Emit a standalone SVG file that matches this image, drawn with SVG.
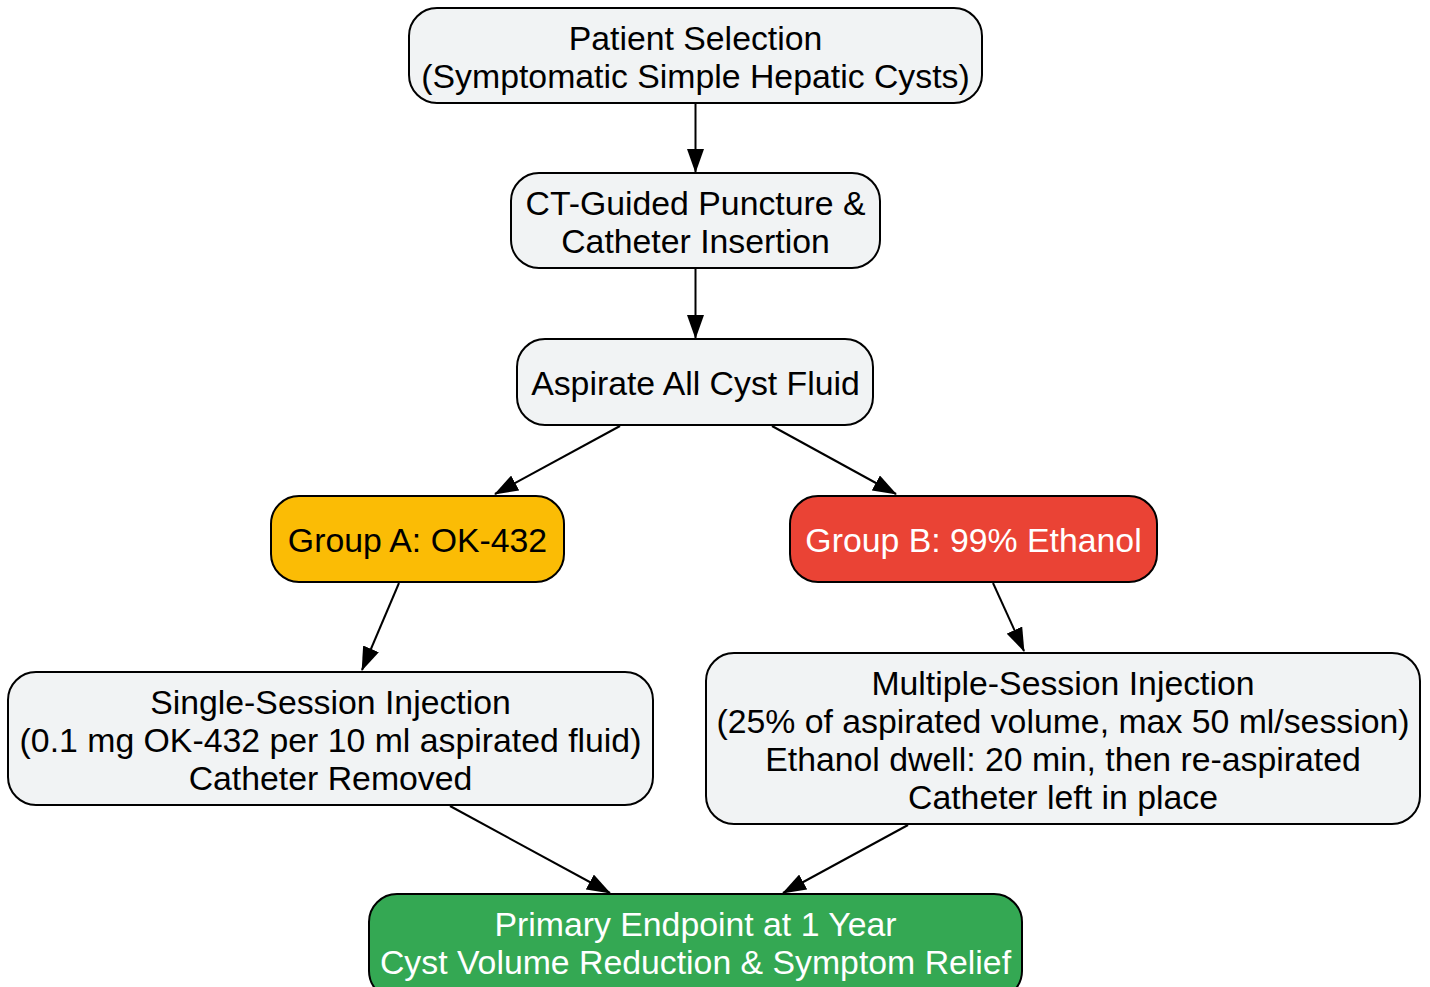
<svg xmlns="http://www.w3.org/2000/svg" width="1430" height="987" viewBox="0 0 1430 987">
<style>
.n{stroke:#000;stroke-width:2}
.g{fill:#F1F3F4}
.t{font-family:"Liberation Sans",Arial,sans-serif;font-size:33.8px;text-anchor:middle;fill:#000}
.w{fill:#fff}
.e{stroke:#000;stroke-width:2;fill:none;marker-end:url(#ah)}
</style>
<defs>
<marker id="ah" viewBox="0 0 24 17" refX="23" refY="8.5" markerWidth="24" markerHeight="17" markerUnits="userSpaceOnUse" orient="auto">
<path d="M0,0 L24,8.5 L0,17 z" fill="#000"/>
</marker>
</defs>
<rect width="1430" height="987" fill="#fff"/>
<g id="connectors">
<line class="e" x1="695.5" y1="103" x2="695.5" y2="172"/>
<line class="e" x1="695.5" y1="268" x2="695.5" y2="338"/>
<line class="e" x1="620" y1="426" x2="495" y2="494"/>
<line class="e" x1="772" y1="426" x2="896" y2="494"/>
<line class="e" x1="399" y1="583" x2="362" y2="670"/>
<line class="e" x1="993" y1="583" x2="1024" y2="651"/>
<line class="e" x1="450" y1="806" x2="610" y2="893"/>
<line class="e" x1="908" y1="825" x2="783" y2="893"/>
</g>
<g id="patient">
<rect class="n g" x="409" y="8" width="573" height="95" rx="28"/>
<text class="t" x="695.5" y="50">Patient Selection</text>
<text class="t" x="695.5" y="88">(Symptomatic Simple Hepatic Cysts)</text>
</g>
<g id="ct">
<rect class="n g" x="511" y="173" width="369" height="95" rx="28"/>
<text class="t" x="695.5" y="215">CT-Guided Puncture &amp;</text>
<text class="t" x="695.5" y="253">Catheter Insertion</text>
</g>
<g id="aspirate">
<rect class="n g" x="517" y="339" width="356" height="86" rx="28"/>
<text class="t" x="695.5" y="395">Aspirate All Cyst Fluid</text>
</g>
<g id="groupA">
<rect class="n" fill="#FBBC05" x="271" y="496" width="293" height="86" rx="28"/>
<text class="t" x="417.5" y="552">Group A: OK-432</text>
</g>
<g id="groupB">
<rect class="n" fill="#EA4335" x="790" y="496" width="367" height="86" rx="28"/>
<text class="t w" x="973.5" y="552">Group B: 99% Ethanol</text>
</g>
<g id="single">
<rect class="n g" x="8" y="672" width="645" height="133" rx="28"/>
<text class="t" x="330.5" y="714">Single-Session Injection</text>
<text class="t" x="330.5" y="752">(0.1 mg OK-432 per 10 ml aspirated fluid)</text>
<text class="t" x="330.5" y="790">Catheter Removed</text>
</g>
<g id="multiple">
<rect class="n g" x="706" y="653" width="714" height="171" rx="28"/>
<text class="t" x="1063" y="695">Multiple-Session Injection</text>
<text class="t" x="1063" y="733">(25% of aspirated volume, max 50 ml/session)</text>
<text class="t" x="1063" y="771">Ethanol dwell: 20 min, then re-aspirated</text>
<text class="t" x="1063" y="809">Catheter left in place</text>
</g>
<g id="endpoint">
<rect class="n" fill="#34A853" x="369" y="894" width="653" height="105" rx="28"/>
<text class="t w" x="695.5" y="936">Primary Endpoint at 1 Year</text>
<text class="t w" x="695.5" y="974">Cyst Volume Reduction &amp; Symptom Relief</text>
</g>
</svg>
